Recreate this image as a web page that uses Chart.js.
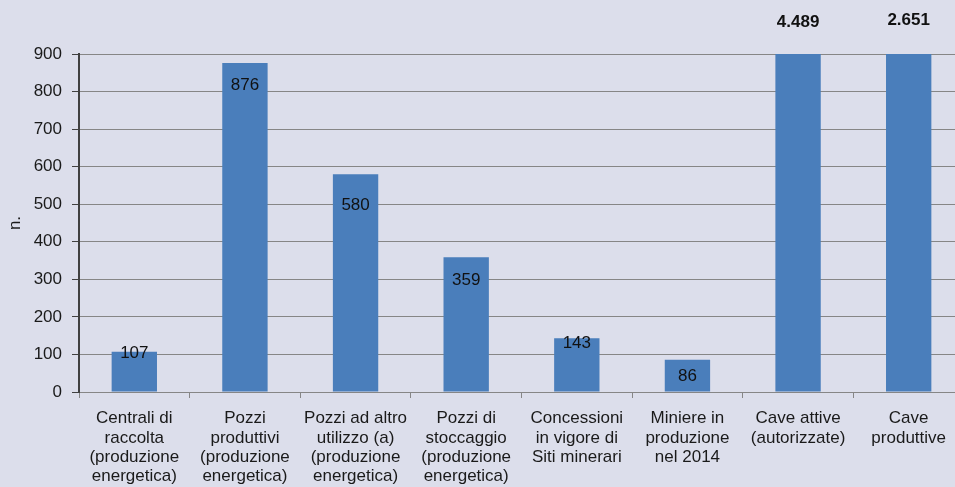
<!DOCTYPE html>
<html>
<head>
<meta charset="utf-8">
<script src="https://cdn.jsdelivr.net/npm/chart.js@4"></script>
<style>
  html, body { margin: 0; padding: 0; overflow: hidden; background: #dcdeeb; }
  #wrap { width: 964px; height: 487px; position: relative; }
</style>
</head>
<body>
<div id="wrap"><canvas id="chart"></canvas></div>
<script>
var categories = [
  ["Centrali di", "raccolta", "(produzione", "energetica)"],
  ["Pozzi", "produttivi", "(produzione", "energetica)"],
  ["Pozzi ad altro", "utilizzo (a)", "(produzione", "energetica)"],
  ["Pozzi di", "stoccaggio", "(produzione", "energetica)"],
  ["Concessioni", "in vigore di", "Siti minerari"],
  ["Miniere in", "produzione", "nel 2014"],
  ["Cave attive", "(autorizzate)"],
  ["Cave", "produttive"]
];
var values = [107, 876, 580, 359, 143, 86, 4489, 2651];
var yTicks = { min: 0, max: 900, step: 100 };

// text offset from bar top (px), as placed in the original
var labelOffsets = [1, 22, 31, 23, 5, 17, 0, 0];
// y of the bold labels for bars running off the top
var overLabelY = { 6: 22, 7: 20 };

function fmt(v) {
  return v >= 1000 ? String(v).replace(/(\d)(?=(\d{3})+$)/g, "$1.") : String(v);
}

var valueLabels = {
  id: "valueLabels",
  afterDatasetsDraw: function (chart) {
    var ctx = chart.ctx;
    var meta = chart.getDatasetMeta(0);
    var yMax = chart.scales.y.max;
    ctx.save();
    ctx.textAlign = "center";
    ctx.textBaseline = "middle";
    ctx.fillStyle = "#111";
    meta.data.forEach(function (bar, i) {
      var v = values[i];
      if (v > yMax) {
        ctx.font = "bold 17px 'Liberation Sans', Arial, sans-serif";
        ctx.fillText(fmt(v), bar.x, overLabelY[i]);
      } else {
        ctx.font = "17px 'Liberation Sans', Arial, sans-serif";
        ctx.fillText(fmt(v), bar.x, bar.y + labelOffsets[i]);
      }
    });
    ctx.restore();
  }
};

var font = { family: "'Liberation Sans', Arial, sans-serif", size: 17, lineHeight: 1.13 };

new Chart(document.getElementById("chart").getContext("2d"), {
  type: "bar",
  data: {
    labels: categories,
    datasets: [{
      data: values,
      backgroundColor: "#4a7ebb",
      borderWidth: 0,
      barPercentage: 0.41,
      categoryPercentage: 1
    }]
  },
  options: {
    responsive: true,
    maintainAspectRatio: false,
    animation: false,
    layout: { padding: { top: 54, left: 0, right: 0, bottom: 0 } },
    plugins: { legend: { display: false }, tooltip: { enabled: false } },
    scales: {
      x: {
        offset: true,
        grid: { offset: true, drawOnChartArea: false, tickLength: 6, color: "#868686" },
        border: { color: "#868686", width: 1 },
        ticks: { font: font, color: "#1a1a1a", maxRotation: 0, autoSkip: false, padding: 11 },
        afterFit: function (s) { s.height = 95; }
      },
      y: {
        min: yTicks.min,
        max: yTicks.max,
        grid: { color: "#868686", tickLength: 7, tickColor: "#404040" },
        border: { color: "#404040", width: 2 },
        ticks: { stepSize: yTicks.step, font: font, color: "#1a1a1a", padding: 10 },
        title: { display: true, text: "n.", font: font, color: "#1a1a1a", padding: { top: 6, bottom: 0 } },
        afterFit: function (s) { s.width = 79; }
      }
    }
  },
  plugins: [valueLabels]
});
</script>
</body>
</html>
